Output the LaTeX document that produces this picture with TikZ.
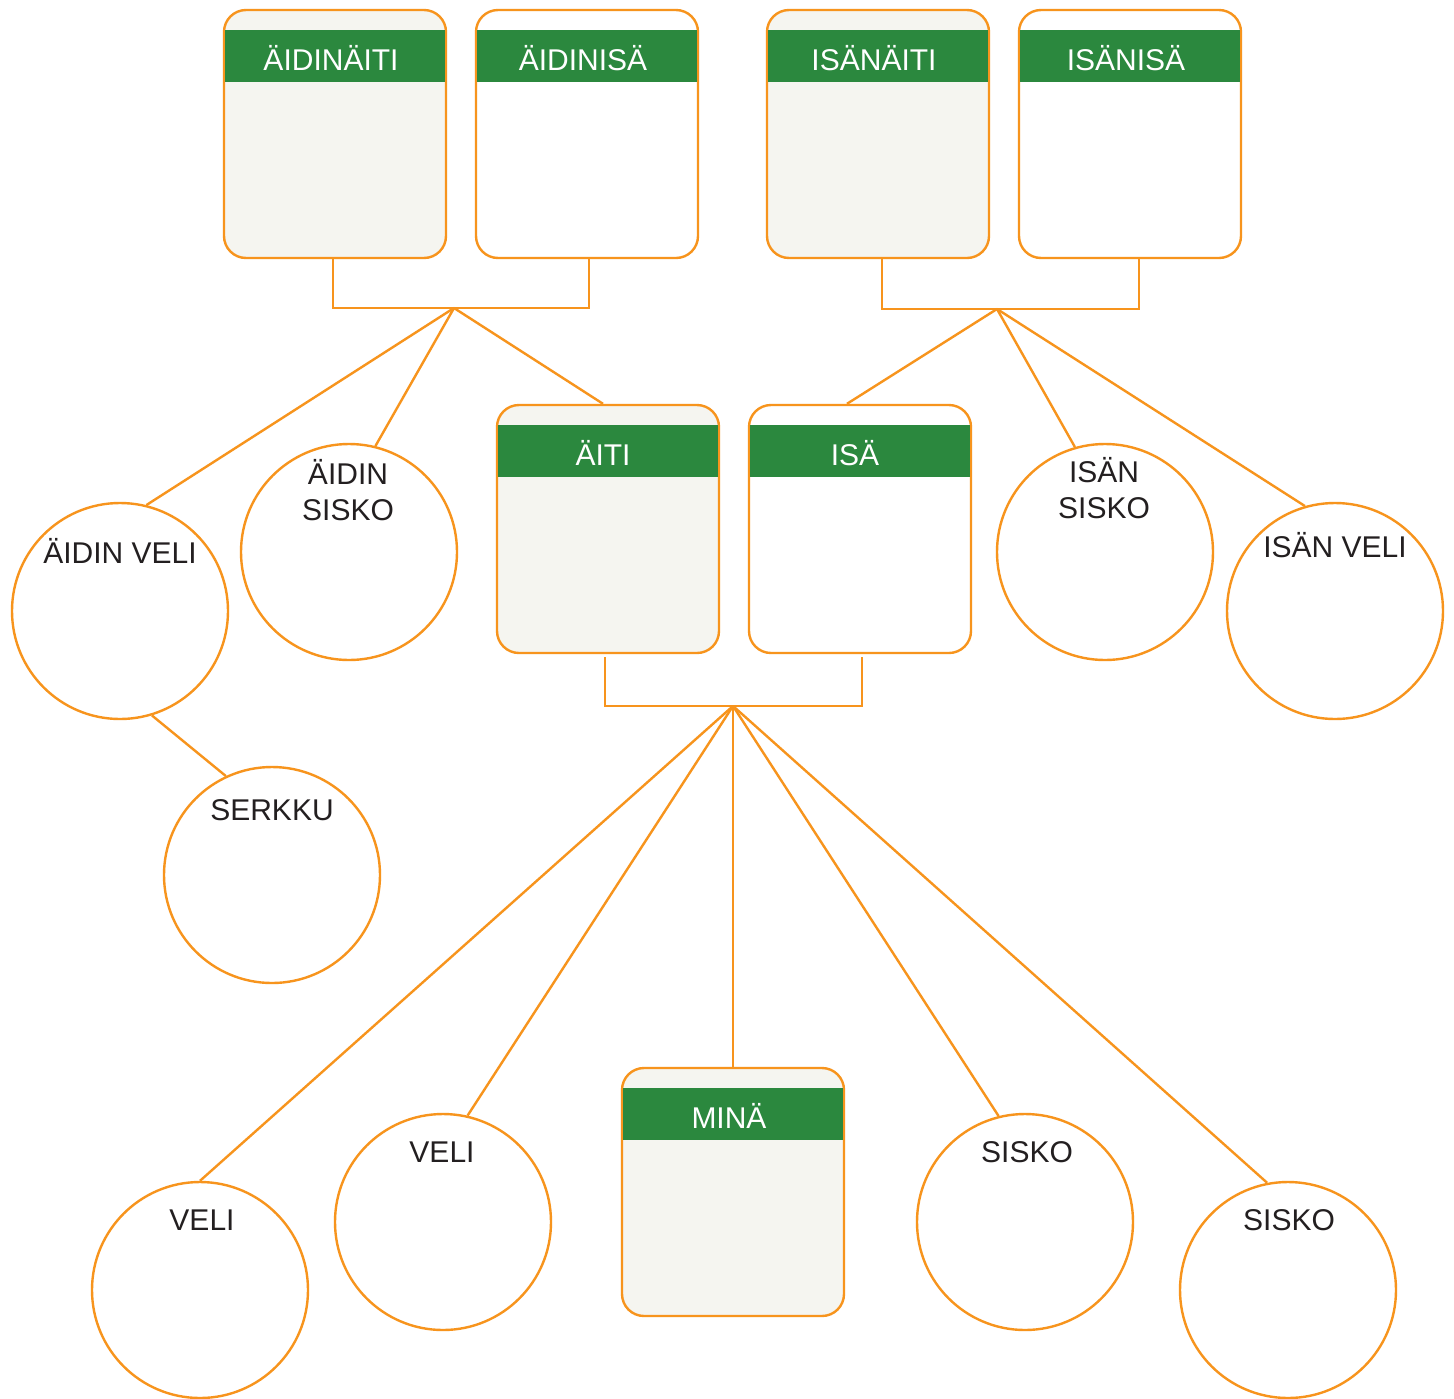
\documentclass[tikz,border=0pt]{standalone}
\usepackage{fontspec}
\setmainfont{Liberation Sans}
\definecolor{org}{HTML}{F7941D}
\definecolor{grn}{HTML}{2B883E}
\definecolor{lite}{HTML}{F5F5F0}
\definecolor{ink}{HTML}{231F20}
\tikzset{
  pbox/.style={draw=org, line width=2.4pt, rounded corners=22pt, minimum width=222pt, minimum height=248pt, inner sep=0pt},
  pcirc/.style={draw=org, line width=2.4pt, circle, minimum size=216pt, inner sep=0pt, fill=white},
  conn/.style={draw=org, line width=2.4pt},
  hdr/.style={fill=grn, minimum width=220pt, minimum height=52pt, inner sep=0pt},
  lbl/.style={inner sep=0pt, text=ink, font=\fontsize{30}{36}\selectfont, text height=21.5pt, text depth=0pt},
  hlbl/.style={lbl, text=white}
}
\begin{document}
\begin{tikzpicture}[x=1pt,y=-1pt]
\useasboundingbox[fill=white] (0,0) rectangle (1454,1398);
% person boxes
\node[pbox, fill=lite]  (aidinaiti) at (335,134) {};
\node[pbox, fill=white] (aidinisa)  at (587,134) {};
\node[pbox, fill=lite]  (isanaiti)  at (878,134) {};
\node[pbox, fill=white] (isanisa)   at (1130,134) {};
\node[pbox, fill=lite]  (aiti)      at (608,529) {};
\node[pbox, fill=white] (isa)       at (860,529) {};
\node[pbox, fill=lite]  (mina)      at (733,1192) {};
% headers
\node[hdr] (aidinaiti-h) at (335,56) {};
\node[hdr] (aidinisa-h)  at (587,56) {};
\node[hdr] (isanaiti-h)  at (878,56) {};
\node[hdr] (isanisa-h)   at (1130,56) {};
\node[hdr] (aiti-h)      at (608,451) {};
\node[hdr] (isa-h)       at (860,451) {};
\node[hdr] (mina-h)      at (733,1114) {};
\node[hlbl] (aidinaiti-t) at (331,60) {ÄIDINÄITI};
\node[hlbl] (aidinisa-t)  at (583,60) {ÄIDINISÄ};
\node[hlbl] (isanaiti-t)  at (874,60) {ISÄNÄITI};
\node[hlbl] (isanisa-t)   at (1126,60) {ISÄNISÄ};
\node[hlbl] (aiti-t)      at (603,455) {ÄITI};
\node[hlbl] (isa-t)       at (855,455) {ISÄ};
\node[hlbl] (mina-t)      at (729,1118) {MINÄ};
% circles
\node[pcirc] (aidinveli)  at (120,611) {};
\node[pcirc] (aidinsisko) at (349,552) {};
\node[pcirc] (isansisko)  at (1105,552) {};
\node[pcirc] (isanveli)   at (1335,611) {};
\node[pcirc] (serkku)     at (272,875) {};
\node[pcirc] (veli1)      at (200,1290) {};
\node[pcirc] (veli2)      at (443,1222) {};
\node[pcirc] (sisko1)     at (1025,1222) {};
\node[pcirc] (sisko2)     at (1288,1290) {};
% circle labels
\node[lbl] (aidinveli-t)   at (120,553) {ÄIDIN VELI};
\node[lbl] (aidinsisko-t1) at (348,474) {ÄIDIN};
\node[lbl] (aidinsisko-t2) at (348,510) {SISKO};
\node[lbl] (isansisko-t1)  at (1104,472) {ISÄN};
\node[lbl] (isansisko-t2)  at (1104,508) {SISKO};
\node[lbl] (isanveli-t)    at (1335,547) {ISÄN VELI};
\node[lbl] (serkku-t)      at (272,810) {SERKKU};
\node[lbl] (veli1-t)       at (202,1220) {VELI};
\node[lbl] (veli2-t)       at (442,1152) {VELI};
\node[lbl] (sisko1-t)      at (1027,1152) {SISKO};
\node[lbl] (sisko2-t)      at (1289,1220) {SISKO};
% junctions
\coordinate (jm) at (454,308);
\coordinate (jf) at (997,309);
\coordinate (jc) at (733,706);
% brackets
\draw[conn] ([xshift=-2pt]aidinaiti.south) |- (jm) -| ([xshift=2pt]aidinisa.south);
\draw[conn] ([xshift=4pt]isanaiti.south) |- (jf) -| ([xshift=9pt]isanisa.south);
\draw[conn] ([xshift=-3pt,yshift=-3pt]aiti.south) |- (jc) -| ([xshift=2pt,yshift=-3pt]isa.south);
% connectors
\draw[conn] (jm) -- (aidinveli.76);
\draw[conn] (jm) -- (aidinsisko.76);
\draw[conn] (jm) -- ([xshift=-5pt]aiti.north);
\draw[conn] (jf) -- ([xshift=-13pt]isa.north);
\draw[conn] (jf) -- (isansisko.106);
\draw[conn] (jf) -- (isanveli.106);
\draw[conn] (jc) -- (veli1.90);
\draw[conn] (jc) -- (veli2.77);
\draw[conn] (jc) -- (mina.north);
\draw[conn] (jc) -- (sisko1.104);
\draw[conn] (jc) -- (sisko2.101);
\draw[conn] (aidinveli.287) -- (serkku.115);
\end{tikzpicture}
\end{document}
